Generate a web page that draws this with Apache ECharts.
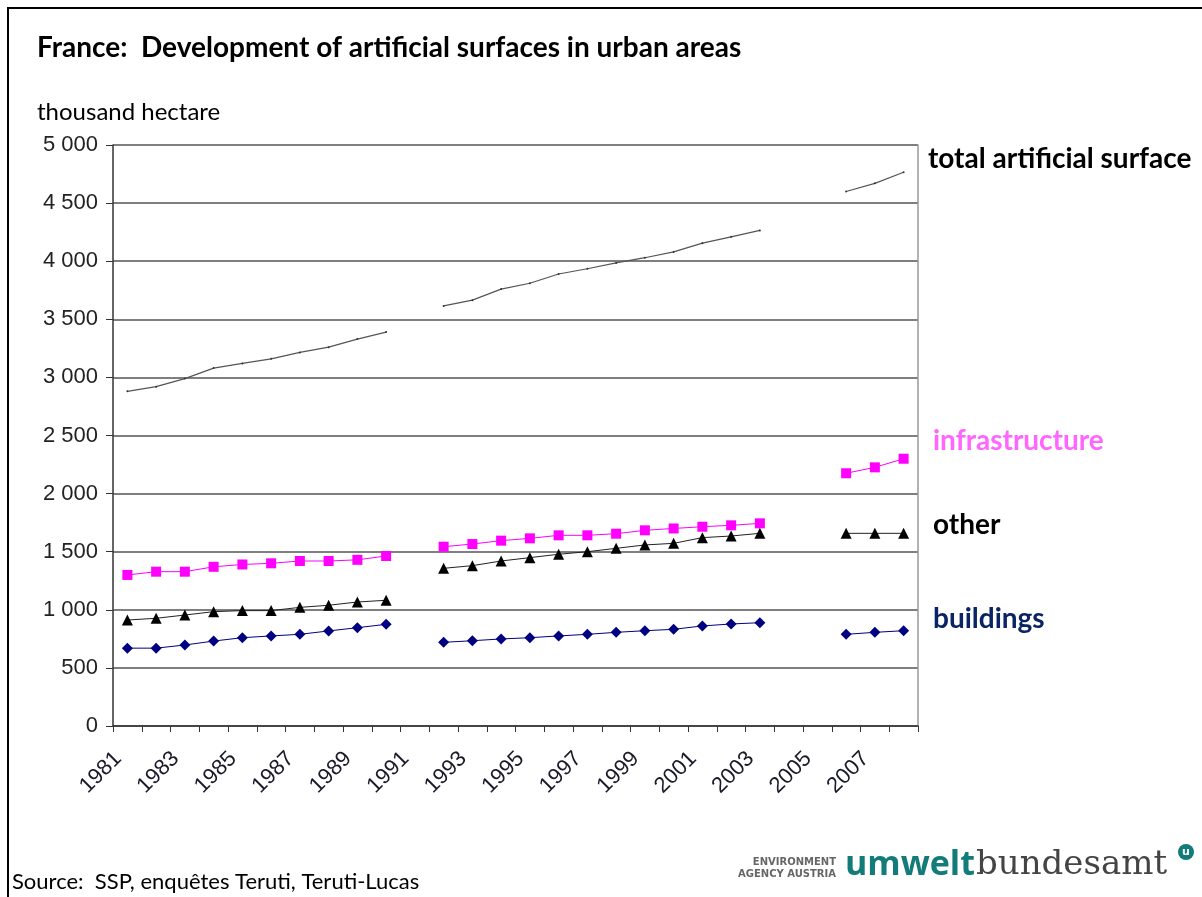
<!DOCTYPE html>
<html>
<head>
<meta charset="utf-8">
<script src="https://cdn.jsdelivr.net/npm/echarts@6/dist/echarts.min.js"></script>
<style>
  html, body { margin: 0; padding: 0; background: #fff; }
  #chart { width: 1202px; height: 897px; }
</style>
</head>
<body>
<div id="chart"></div>
<script>
// years 1981..2008, gaps in 1991, 2004, 2005
const years = ["1981","1982","1983","1984","1985","1986","1987","1988","1989","1990",
  "1991","1992","1993","1994","1995","1996","1997","1998","1999","2000",
  "2001","2002","2003","2004","2005","2006","2007","2008"];

const total = [2880, 2920, 2990, 3080, 3120, 3160, 3215, 3260, 3330, 3390,
  null, 3615, 3665, 3760, 3810, 3890, 3935, 3985, 4030, 4080,
  4155, 4210, 4265, null, null, 4600, 4670, 4765];

const infrastructure = [1300, 1328, 1328, 1370, 1390, 1400, 1420, 1420, 1430, 1463,
  null, 1543, 1566, 1595, 1615, 1641, 1641, 1655, 1684, 1700,
  1715, 1727, 1744, null, null, 2175, 2226, 2300];

const other = [912, 927, 955, 984, 993, 993, 1021, 1039, 1067, 1082,
  null, 1357, 1380, 1420, 1449, 1478, 1500, 1529, 1558, 1572,
  1621, 1635, 1658, null, null, 1658, 1658, 1658];

const buildings = [670, 670, 697, 731, 760, 775, 789, 818, 846, 875,
  null, 720, 734, 749, 760, 775, 789, 806, 820, 832,
  861, 878, 889, null, null, 789, 806, 820];

const yTicks = { min: 0, max: 5000, step: 500 };

const fmt = v => {
  const s = String(v);
  return s.length > 3 ? s.slice(0, s.length - 3) + " " + s.slice(-3) : s;
};

const chart = echarts.init(document.getElementById("chart"));

const option = {
  backgroundColor: "#fff",
  animation: false,
  grid: { left: 113, right: 284, top: 145, bottom: 171 },
  xAxis: {
    type: "category",
    data: years,
    boundaryGap: true,
    axisLine: { lineStyle: { color: "#333", width: 1.5 } },
    axisTick: { show: true, interval: 0, length: 6, lineStyle: { color: "#333" } },
    axisLabel: {
      interval: 1,
      rotate: 45,
      margin: 20,
      padding: [0, 13, 0, 0],
      color: "#1a1a2a",
      fontFamily: "Liberation Sans",
      fontSize: 22
    },
    splitLine: { show: false }
  },
  yAxis: [
    {
      type: "value",
      min: yTicks.min,
      max: yTicks.max,
      interval: yTicks.step,
      axisLine: { show: true, lineStyle: { color: "#333", width: 1.5 } },
      axisTick: { show: true, length: 7, lineStyle: { color: "#333" } },
      axisLabel: {
        margin: 15,
        color: "#222",
        fontFamily: "Liberation Sans",
        fontSize: 22,
        formatter: fmt
      },
      splitLine: { lineStyle: { color: "#555", width: 1.5 } }
    },
    {
      type: "value",
      position: "right",
      min: yTicks.min,
      max: yTicks.max,
      interval: yTicks.step,
      axisLine: { show: true, lineStyle: { color: "#999", width: 1.5 } },
      axisTick: { show: false },
      axisLabel: { show: false },
      splitLine: { show: false }
    }
  ],
  series: [
    {
      name: "total artificial surface",
      type: "line",
      data: total,
      connectNulls: false,
      symbol: "circle",
      symbolSize: 2,
      itemStyle: { color: "#333" },
      lineStyle: { color: "#555", width: 1.2 }
    },
    {
      name: "infrastructure",
      type: "line",
      data: infrastructure,
      connectNulls: false,
      symbol: "rect",
      symbolSize: 10,
      itemStyle: { color: "#ff00ff" },
      lineStyle: { color: "#ff00ff", width: 1 }
    },
    {
      name: "other",
      type: "line",
      data: other,
      connectNulls: false,
      symbol: "triangle",
      symbolSize: 11,
      itemStyle: { color: "#000" },
      lineStyle: { color: "#222", width: 1 }
    },
    {
      name: "buildings",
      type: "line",
      data: buildings,
      connectNulls: false,
      symbol: "diamond",
      symbolSize: 11,
      itemStyle: { color: "#000080" },
      lineStyle: { color: "#000080", width: 1 }
    }
  ],
  graphic: [
    // frame
    { type: "rect", shape: { x: 7, y: 7, width: 1202, height: 2 }, style: { fill: "#000" } },
    { type: "rect", shape: { x: 7, y: 7, width: 2, height: 900 }, style: { fill: "#000" } },
    {
      type: "text", left: 37, top: 34,
      style: { text: "France:  Development of artificial surfaces in urban areas",
        font: "bold 28px Lato", fill: "#000" }
    },
    {
      type: "text", left: 37, top: 100,
      style: { text: "thousand hectare", font: "24px Lato", fill: "#000" }
    },
    {
      type: "text", left: 928, top: 145,
      style: { text: "total artificial surface", font: "bold 28px Lato", fill: "#000" }
    },
    {
      type: "text", left: 933, top: 427,
      style: { text: "infrastructure", font: "bold 28px Lato", fill: "#ff66ff" }
    },
    {
      type: "text", left: 933, top: 511,
      style: { text: "other", font: "bold 28px Lato", fill: "#000" }
    },
    {
      type: "text", left: 933, top: 605,
      style: { text: "buildings", font: "bold 28px Lato", fill: "#0b2464" }
    },
    {
      type: "text", left: 12, top: 871,
      style: { text: "Source:  SSP, enquêtes Teruti, Teruti-Lucas", font: "22px Lato", fill: "#000" }
    },
    // logo
    {
      type: "text", x: 836, y: 862,
      style: { text: "ENVIRONMENT", font: "bold 10px 'DejaVu Sans'", fill: "#666", align: "right", verticalAlign: "middle" }
    },
    {
      type: "text", x: 836, y: 874,
      style: { text: "AGENCY AUSTRIA", font: "bold 10px 'DejaVu Sans'", fill: "#666", align: "right", verticalAlign: "middle" }
    },
    {
      type: "text", x: 975, y: 882,
      style: { text: "umwelt", font: "bold 34px 'Open Sans'", fill: "#137c7b", align: "right", verticalAlign: "bottom" }
    },
    {
      type: "text", x: 976, y: 882,
      style: { text: "bundesamt", font: "34px 'DejaVu Serif'", fill: "#444", align: "left", verticalAlign: "bottom" }
    },
    {
      type: "circle", shape: { cx: 1186, cy: 852, r: 8 }, style: { fill: "#137c7b" }
    },
    {
      type: "text", x: 1186, y: 852,
      style: { text: "u", font: "bold 11px 'DejaVu Sans'", fill: "#fff", align: "center", verticalAlign: "middle" }
    }
  ]
};

chart.setOption(option);
</script>
</body>
</html>
